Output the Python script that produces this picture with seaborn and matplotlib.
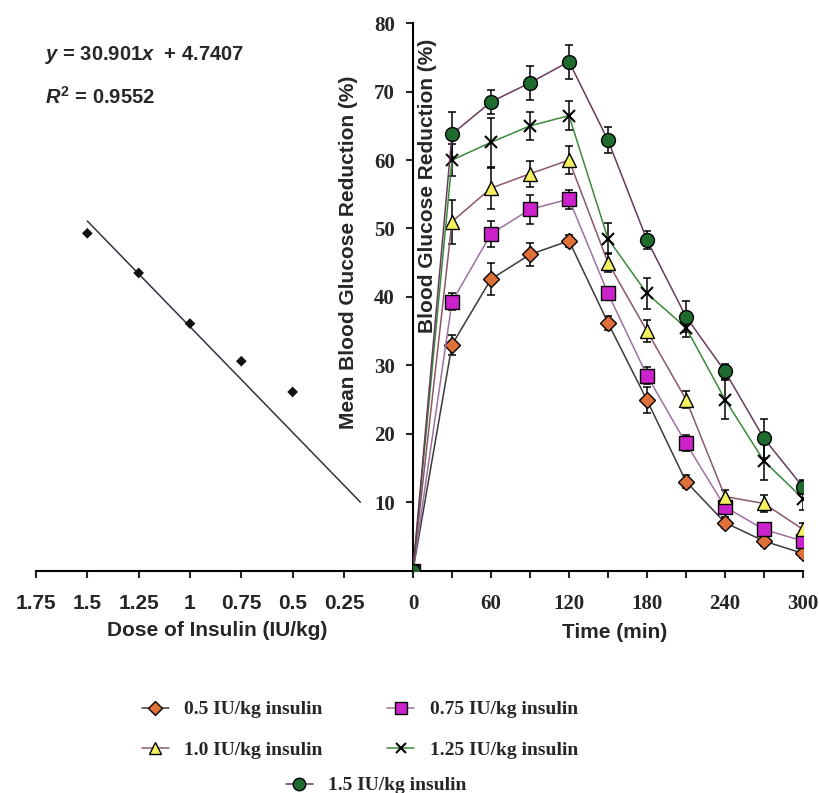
import numpy as np
import pandas as pd
import matplotlib.pyplot as plt
import seaborn as sns

sns.set_theme(style='white', rc={'axes.linewidth': 1.5})
plt.rcParams['font.family'] = ['Liberation Sans', 'DejaVu Sans']
plt.rcParams['mathtext.fontset'] = 'custom'
plt.rcParams['mathtext.rm'] = 'Liberation Sans:bold'
plt.rcParams['mathtext.it'] = 'Liberation Sans:bold:italic'

# time course: % reduction of blood glucose, mean and error
time_min = [0, 30, 60, 90, 120, 150, 180, 210, 240, 270, 300]
doses = ['0.5', '0.75', '1.0', '1.25', '1.5']
red_05 = [0, 33.0, 42.6, 46.2, 48.2, 36.2, 24.9, 13.0, 7.0, 4.3, 2.5]
red_075 = [0, 39.3, 49.2, 52.8, 54.3, 40.5, 28.5, 18.6, 9.3, 6.0, 4.3]
red_10 = [0, 51.0, 55.9, 58.0, 60.0, 45.0, 35.0, 25.0, 10.8, 9.8, 6.0]
red_125 = [0, 60.0, 62.6, 65.0, 66.5, 48.5, 40.5, 35.5, 25.0, 16.0, 10.5]
red_15 = [0, 63.8, 68.5, 71.3, 74.4, 62.9, 48.3, 37.1, 29.1, 19.3, 12.2]
err_05 = [0, 1.5, 2.3, 1.7, 0.9, 1.0, 1.9, 1.0, 0.8, 0.7, 0.7]
err_075 = [0, 1.2, 1.9, 2.1, 1.4, 1.0, 1.3, 1.2, 1.0, 1.0, 1.2]
err_10 = [0, 3.2, 3.0, 1.9, 2.1, 1.4, 1.6, 1.2, 1.0, 1.2, 1.0]
err_125 = [0, 2.3, 3.6, 2.0, 2.1, 2.3, 2.2, 1.3, 2.8, 2.8, 1.6]
err_15 = [0, 3.3, 1.8, 2.5, 2.5, 1.9, 1.3, 2.3, 1.1, 2.9, 1.0]

# dose-response (left panel) and its linear fit
dose_iu = [1.5, 1.25, 1.0, 0.75, 0.5]
dose_red = [49.3, 43.5, 36.1, 30.6, 26.1]
slope, intercept = 30.901, 4.7407
fit_dose = [1.5, 0.17]

dose_ticks = [1.75, 1.5, 1.25, 1.0, 0.75, 0.5, 0.25]
dose_ticklabels = ['1.75', '1.5', '1.25', '1', '0.75', '0.5', '0.25']
time_ticks = [0, 30, 60, 90, 120, 150, 180, 210, 240, 270, 300]
red_ticks = [10, 20, 30, 40, 50, 60, 70, 80]

means = dict(zip(doses, [red_05, red_075, red_10, red_125, red_15]))
errs = dict(zip(doses, [err_05, err_075, err_10, err_125, err_15]))

# line colour, marker, marker face, marker size
styles = {
    '0.5': ('#3a3a3a', 'D', '#e0703a', 8),
    '0.75': ('#a070a0', 's', '#cc22cc', 10),
    '1.0': ('#8a5868', '^', '#f5f060', 10),
    '1.25': ('#3a8a3a', 'x', 'black', 8),
    '1.5': ('#6a3a5a', 'o', '#1f6a2f', 10),
}

W, H = 819, 793
fig = plt.figure(figsize=(W / 100, H / 100), dpi=100)
ybot = (H - 570.5) / H
yh = (570.5 - 23.3) / H

# ---- right panel: time course
ax = fig.add_axes([413 / W, ybot, 390 / W, yh])
handles = {}
for d in doses:
    lc, mk, fc, ms = styles[d]
    df = pd.DataFrame({'time': time_min, 'red': means[d]})
    sns.lineplot(data=df, x='time', y='red', color=lc, linewidth=1.1,
                 marker=mk, markerfacecolor=fc, markeredgecolor='black',
                 markeredgewidth=1.0 if mk != 'x' else 1.5, markersize=ms,
                 ax=ax, zorder=3, label=d + ' IU/kg insulin')
    handles[d] = ax.lines[-1]
    ax.errorbar(time_min[1:], means[d][1:], yerr=errs[d][1:], fmt='none',
                ecolor='black', elinewidth=1.1, capsize=3, capthick=1.1,
                zorder=2.5)
ax.legend_.remove()
ax.set_xlim(0, 300)
ax.set_ylim(0, 80)
ax.set_xticks(time_ticks)
ax.set_xticklabels([str(t) if t % 60 == 0 else '' for t in time_ticks])
ax.set_yticks(red_ticks)
ax.set_xlabel('')
ax.set_ylabel('')
ax.tick_params(axis='both', direction='out', length=5, width=1.5,
               labelsize=15, left=True, bottom=True)
ax.tick_params(axis='x', pad=12)
ax.tick_params(axis='y', pad=8)
for lab in ax.get_xticklabels() + ax.get_yticklabels():
    lab.set_fontfamily('Liberation Serif')
    lab.set_fontweight('bold')
for s in ['top', 'right']:
    ax.spines[s].set_visible(False)
for s in ['left', 'bottom']:
    ax.spines[s].set_color('black')

# ---- left panel: dose-response
axl = fig.add_axes([36 / W, ybot, 377 / W, yh])
sns.scatterplot(x=dose_iu, y=dose_red, marker='D', color='#111111', s=30,
                edgecolor='none', ax=axl, zorder=3)
fit_y = [slope * x + intercept for x in fit_dose]
sns.lineplot(x=fit_dose, y=fit_y, color='#333344', linewidth=1.1, ax=axl)
axl.set_xlim(1.75, 1.75 - 377 / 205.3)
axl.set_ylim(0, 80)
axl.set_xticks(dose_ticks)
axl.set_xticklabels(dose_ticklabels)
axl.set_yticks([])
axl.tick_params(axis='x', direction='out', length=5, width=1.5,
                labelsize=15, bottom=True, pad=12)
for lab in axl.get_xticklabels():
    lab.set_fontweight('bold')
for s in ['top', 'right', 'left']:
    axl.spines[s].set_visible(False)
axl.spines['bottom'].set_color('black')
axl.patch.set_alpha(0)

# ---- texts
fig.text(45 / W, 1 - 55 / H, r'$y$ = 30.901$x$  + 4.7407', fontsize=14.5,
         fontweight='bold', va='center', ha='left')
fig.text(45 / W, 1 - 97 / H, r'$R^{2}$ = 0.9552', fontsize=14.5,
         fontweight='bold', va='center', ha='left')
fig.text(349 / W, 1 - 252 / H, 'Mean Blood Glucose Reduction (%)', rotation=90,
         fontsize=15, fontweight='bold', ha='center', va='center')
fig.text(427 / W, 1 - 186 / H, 'Blood Glucose Reduction (%)', rotation=90,
         fontsize=15, fontweight='bold', ha='center', va='center')
fig.text(217 / W, 1 - 630 / H, 'Dose of Insulin (IU/kg)', fontsize=15,
         fontweight='bold', ha='center', va='center')
fig.text(615 / W, 1 - 632 / H, 'Time (min)', fontsize=15,
         fontweight='bold', ha='center', va='center')

# ---- legends below
leg_font = {'family': 'Liberation Serif', 'weight': 'bold', 'size': 14}
order = ['0.5', '1.0', '0.75', '1.25']
fig.legend([handles[d] for d in order], [d + ' IU/kg insulin' for d in order],
           ncol=2, loc='upper left', bbox_to_anchor=(132 / W, 1 - 691 / H),
           frameon=False, prop=leg_font, handlelength=1.4, handletextpad=0.8,
           columnspacing=3.3, labelspacing=1.2, borderpad=0, markerscale=0.9)
fig.legend([handles['1.5']], ['1.5 IU/kg insulin'], loc='upper left',
           bbox_to_anchor=(276 / W, 1 - 767 / H), frameon=False, prop=leg_font,
           handlelength=1.4, handletextpad=0.8, borderpad=0, markerscale=0.9)

fig.savefig('out.png', dpi=100)
